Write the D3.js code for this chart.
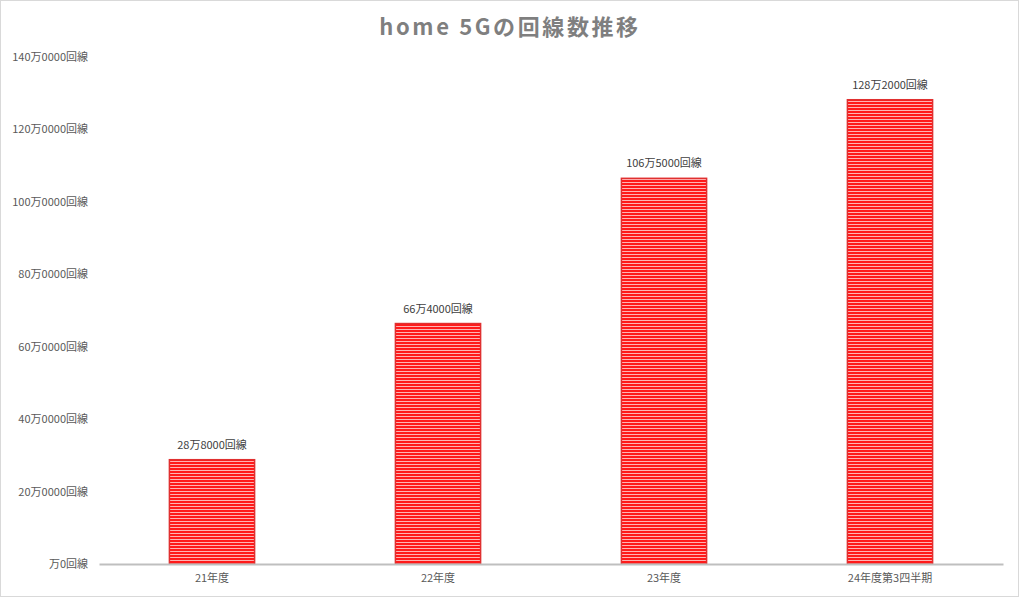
<!DOCTYPE html>
<html><head><meta charset="utf-8">
<script src="https://cdn.jsdelivr.net/npm/d3@7"></script>
<style>
body{margin:0;background:#fff;}
svg{display:block;font-family:"Noto Sans CJK JP","Noto Sans",sans-serif;}
</style></head>
<body><svg id="c" width="1019" height="597"></svg>
<script>
const categories = ["21年度","22年度","23年度","24年度第3四半期"];
const values = [28.8, 66.4, 106.5, 128.2];
const valueLabels = ["28万8000回線","66万4000回線","106万5000回線","128万2000回線"];
const tickValues = [0,20,40,60,80,100,120,140];
const tickLabels = ["万0回線","20万0000回線","40万0000回線","60万0000回線","80万0000回線","100万0000回線","120万0000回線","140万0000回線"];
const title = "home 5Gの回線数推移";

const svg = d3.select("#c");
const W=1019,H=597;
const m={left:99,right:16,top:57,bottom:33};
svg.append("rect").attr("x",0.5).attr("y",0.5).attr("width",W-1).attr("height",H-1)
  .attr("fill","#fff").attr("stroke","#d9d9d9");

const defs=svg.append("defs");
const pat=defs.append("pattern").attr("id","stripe").attr("patternUnits","userSpaceOnUse")
  .attr("width",8).attr("height",3);
pat.append("rect").attr("width",8).attr("height",3).attr("fill","#ffb3b3");
pat.append("rect").attr("width",8).attr("height",2).attr("fill","#ff1a1a");

const x=d3.scaleBand().domain(categories).range([m.left,W-m.right]).paddingInner(0.623).paddingOuter(0.3115);
const y=d3.scaleLinear().domain([0,140]).range([H-m.bottom,m.top]);

svg.append("text").attr("x",510).attr("y",35).attr("text-anchor","middle")
  .attr("font-size",22).attr("font-weight","bold").attr("fill","#7f7f7f")
  .attr("letter-spacing","2.6px").text(title);

const ya=svg.append("g").attr("transform",`translate(${m.left},0)`)
  .call(d3.axisLeft(y).tickValues(tickValues).tickSize(0).tickPadding(11).tickFormat((d,i)=>tickLabels[i]));
ya.select(".domain").remove();
ya.selectAll("text").attr("font-size",11).attr("fill","#595959").attr("font-family","Noto Sans CJK JP");

svg.selectAll("rect.bar").data(values).enter().append("rect").attr("class","bar")
  .attr("x",(d,i)=>x(categories[i])).attr("width",x.bandwidth())
  .attr("y",d=>y(d)).attr("height",d=>y(0)-y(d))
  .attr("fill","url(#stripe)").attr("stroke","#e03030").attr("stroke-width",1.5);

svg.selectAll("text.vl").data(values).enter().append("text").attr("class","vl")
  .attr("x",(d,i)=>x(categories[i])+x.bandwidth()/2).attr("y",d=>y(d)-11)
  .attr("text-anchor","middle").attr("font-size",11).attr("fill","#404040")
  .text((d,i)=>valueLabels[i]);

const xa=svg.append("g").attr("transform",`translate(0,${y(0)})`)
  .call(d3.axisBottom(x).tickSize(0).tickPadding(10));
xa.select(".domain").attr("stroke","#bfbfbf").attr("stroke-width",2);
xa.selectAll("text").attr("font-size",11).attr("fill","#595959").attr("font-family","Noto Sans CJK JP");
</script></body></html>
